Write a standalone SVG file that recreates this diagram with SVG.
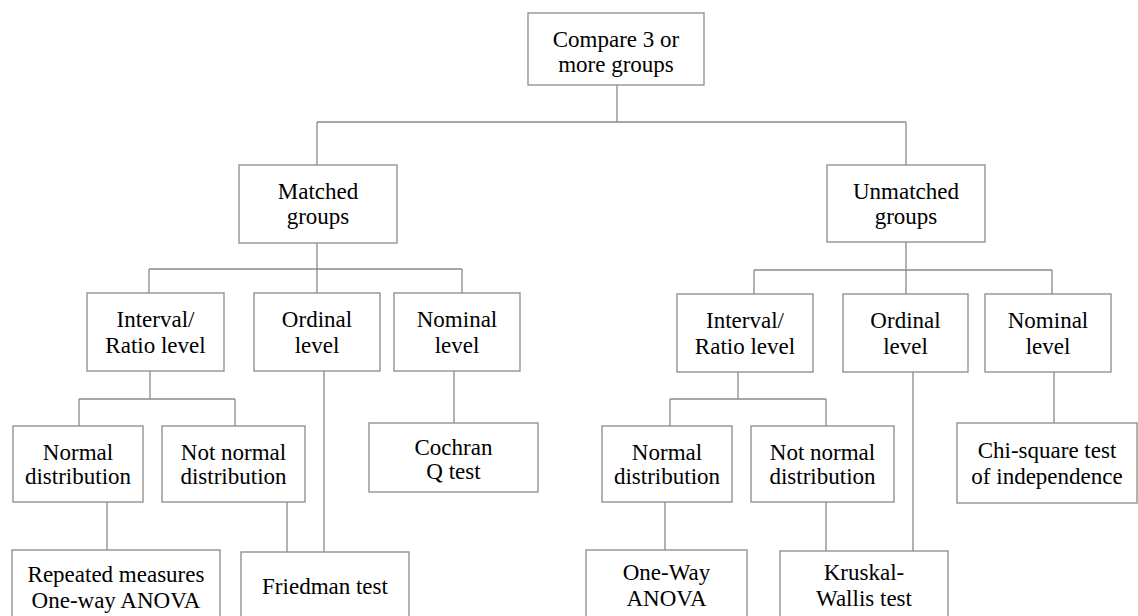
<svg xmlns="http://www.w3.org/2000/svg" width="1138" height="616" viewBox="0 0 1138 616">
<style>
.box{fill:#fff;stroke:#8a8a8a;stroke-width:1.3}
.ln{fill:none;stroke:#8a8a8a;stroke-width:1.3}
.t text{font-size:23px;fill:#000;text-anchor:middle}
</style>
<rect width="1138" height="616" fill="#fff"/>
<g id="connectors" class="ln">
<path d="M617 85V122M317 122H906M317 122V165M906 122V165"/>
<path d="M317 243V269M149 269H462M149 269V293M317 269V293M462 269V293"/>
<path d="M906 242V270M754 270H1052M754 270V294M906 270V294M1052 270V294"/>
<path d="M150 371V399M79 399H235M79 399V426M235 399V426"/>
<path d="M738 372V399M670 399H826M670 399V426M826 399V426"/>
<path d="M107 502V550M287 502V552M324 371V552M454 371V423"/>
<path d="M665 502V550M826 502V551M913 372V551M1054 372V423"/>
</g>
<g class="t" font-family="Liberation Serif, Times New Roman, serif">
<g id="root"><rect class="box" x="528" y="13" width="176" height="72"/><text x="616" y="47">Compare 3 or</text><text x="616" y="72">more groups</text></g>
<g id="matched"><rect class="box" x="239" y="165" width="158" height="78"/><text x="318" y="199">Matched</text><text x="318" y="224">groups</text></g>
<g id="unmatched"><rect class="box" x="827" y="165" width="158" height="77"/><text x="906" y="199">Unmatched</text><text x="906" y="224">groups</text></g>
<g id="m-interval"><rect class="box" x="87" y="293" width="137" height="78"/><text x="155.5" y="327">Interval/</text><text x="155.5" y="353">Ratio level</text></g>
<g id="m-ordinal"><rect class="box" x="254" y="293" width="126" height="78"/><text x="317" y="327">Ordinal</text><text x="317" y="353">level</text></g>
<g id="m-nominal"><rect class="box" x="394" y="293" width="126" height="78"/><text x="457" y="327">Nominal</text><text x="457" y="353">level</text></g>
<g id="m-normal"><rect class="box" x="13" y="426" width="130" height="76"/><text x="78" y="460">Normal</text><text x="78" y="484">distribution</text></g>
<g id="m-notnormal"><rect class="box" x="162" y="426" width="143" height="76"/><text x="233.5" y="460">Not normal</text><text x="233.5" y="484">distribution</text></g>
<g id="cochran"><rect class="box" x="369" y="423" width="169" height="69"/><text x="453.5" y="455">Cochran</text><text x="453.5" y="479">Q test</text></g>
<g id="repeated"><rect class="box" x="12" y="550" width="208" height="80"/><text x="116" y="582">Repeated measures</text><text x="116" y="608">One-way ANOVA</text></g>
<g id="friedman"><rect class="box" x="241" y="552" width="168" height="80"/><text x="325" y="594">Friedman test</text></g>
<g id="u-interval"><rect class="box" x="677" y="294" width="136" height="78"/><text x="745" y="328">Interval/</text><text x="745" y="354">Ratio level</text></g>
<g id="u-ordinal"><rect class="box" x="843" y="294" width="125" height="78"/><text x="905.5" y="328">Ordinal</text><text x="905.5" y="354">level</text></g>
<g id="u-nominal"><rect class="box" x="985" y="294" width="126" height="78"/><text x="1048" y="328">Nominal</text><text x="1048" y="354">level</text></g>
<g id="u-normal"><rect class="box" x="602" y="426" width="130" height="76"/><text x="667" y="460">Normal</text><text x="667" y="484">distribution</text></g>
<g id="u-notnormal"><rect class="box" x="751" y="426" width="143" height="76"/><text x="822.5" y="460">Not normal</text><text x="822.5" y="484">distribution</text></g>
<g id="chisquare"><rect class="box" x="957" y="423" width="180" height="80"/><text x="1047" y="458">Chi-square test</text><text x="1047" y="484">of independence</text></g>
<g id="oneway"><rect class="box" x="586" y="550" width="161" height="80"/><text x="666.5" y="580">One-Way</text><text x="666.5" y="606">ANOVA</text></g>
<g id="kruskal"><rect class="box" x="780" y="551" width="168" height="80"/><text x="864" y="580">Kruskal-</text><text x="864" y="606">Wallis test</text></g>
</g>
</svg>
